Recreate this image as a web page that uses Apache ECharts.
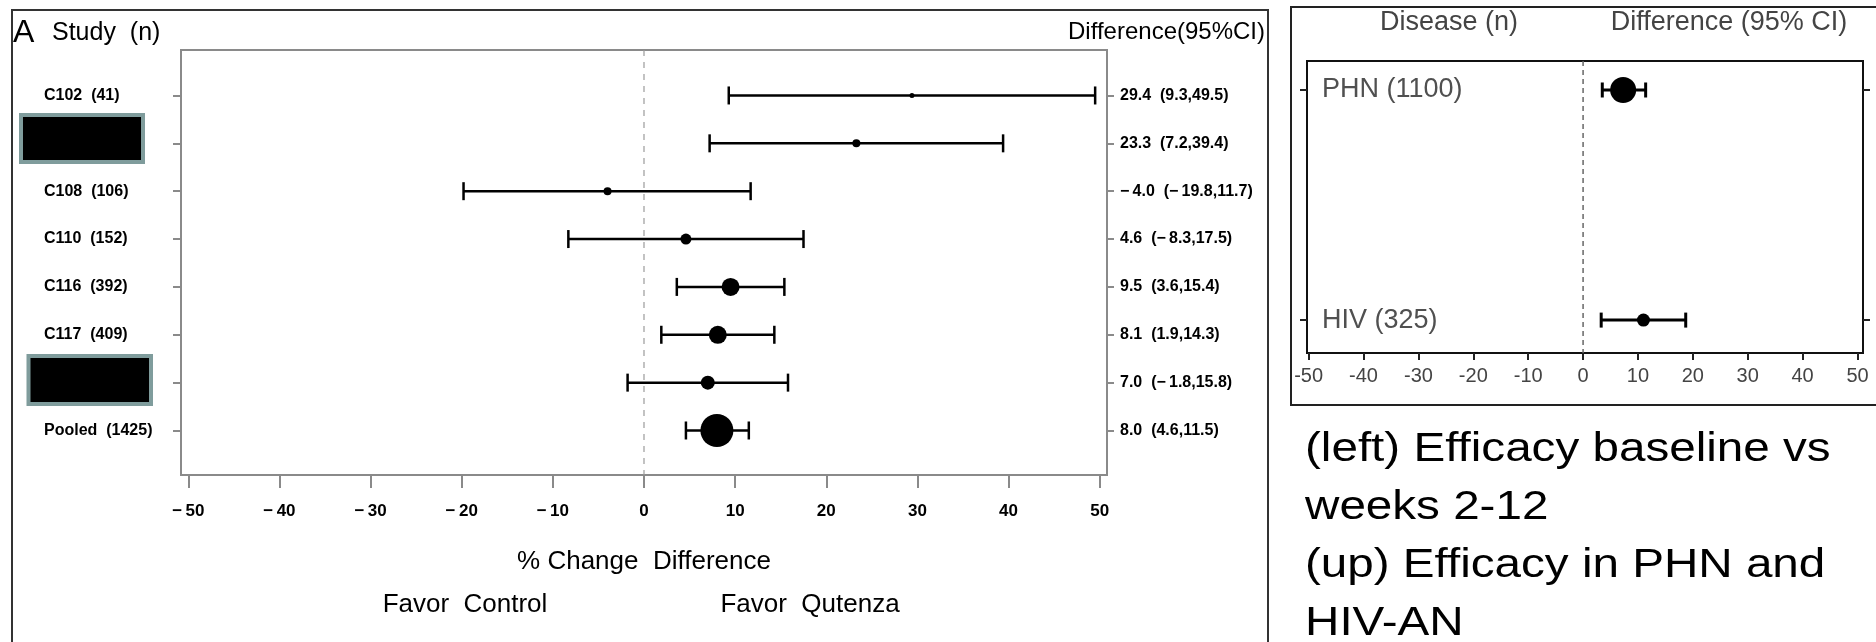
<!DOCTYPE html>
<html>
<head>
<meta charset="utf-8">
<script src="https://cdn.jsdelivr.net/npm/echarts@6/dist/echarts.min.js"></script>
<style>
  html, body { margin: 0; padding: 0; background: #fff; }
  #chart { width: 1876px; height: 642px; }
</style>
</head>
<body>
<div id="chart"></div>
<script>
// left panel: studies (two names are blacked out in the source)
const studies = ['C102  (41)', '', 'C108  (106)', 'C110  (152)', 'C116  (392)', 'C117  (409)', '', 'Pooled  (1425)'];
const diffEst = [29.4, 23.3, -4.0, 4.6, 9.5, 8.1, 7.0, 8.0];
const diffLow = [9.3, 7.2, -19.8, -8.3, 3.6, 1.9, -1.8, 4.6];
const diffHigh = [49.5, 39.4, 11.7, 17.5, 15.4, 14.3, 15.8, 11.5];
const studyMarker = [5, 8, 8, 11, 18, 18, 14, 33];

// right panel: disease
const diseases = ['PHN (1100)', 'HIV (325)'];
const diseaseEst = [7.3, 11.0];
const diseaseLow = [3.5, 3.3];
const diseaseHigh = [11.4, 18.7];
const diseaseMarker = [26, 13];

const xTicks = [-50, -40, -30, -20, -10, 0, 10, 20, 30, 40, 50];

const FONT = '"Liberation Sans", Arial, Helvetica, sans-serif';

function fmt(v) {
  return (v < 0 ? '\u2212\u2009' : '') + Math.abs(v).toFixed(1);
}

let chart = echarts.init(document.getElementById('chart'));

function errorBar(capH, lw) {
  return function (params, api) {
    const y = api.value(3);
    const lo = api.coord([api.value(1), y]);
    const hi = api.coord([api.value(2), y]);
    const mid = api.coord([api.value(0), y]);
    const r = api.value(4) / 2;
    const s = { stroke: '#000', lineWidth: lw };
    return {
      type: 'group',
      children: [
        { type: 'line', shape: { x1: lo[0], y1: lo[1], x2: hi[0], y2: hi[1] }, style: s },
        { type: 'line', shape: { x1: lo[0], y1: lo[1] - capH / 2, x2: lo[0], y2: lo[1] + capH / 2 }, style: s },
        { type: 'line', shape: { x1: hi[0], y1: hi[1] - capH / 2, x2: hi[0], y2: hi[1] + capH / 2 }, style: s },
        { type: 'circle', shape: { cx: mid[0], cy: mid[1], r: r }, style: { fill: '#000' } }
      ]
    };
  };
}

const studyData = diffEst.map((v, i) => [v, diffLow[i], diffHigh[i], i + 1, studyMarker[i]]);
const diseaseData = diseaseEst.map((v, i) => [v, diseaseLow[i], diseaseHigh[i], i + 1, diseaseMarker[i]]);
const rowsA = studies.map((s, i) => i + 1);
const rowsB = diseases.map((s, i) => i + 1);

const option = {
  animation: false,
  backgroundColor: '#fff',
  textStyle: { fontFamily: FONT },
  grid: [
    { left: 181, top: 50, width: 926, height: 425, show: true, borderColor: '#8a8a8a', borderWidth: 2 },
    { left: 1307, top: 61, width: 556, height: 292, show: true, borderColor: '#111', borderWidth: 2 }
  ],
  xAxis: [
    {
      gridIndex: 0, type: 'value', min: -50.8, max: 50.8,
      splitLine: { show: false },
      axisLine: { show: true, onZero: false, lineStyle: { color: '#8a8a8a', width: 2 } },
      axisTick: { show: true, length: 13, customValues: xTicks, lineStyle: { color: '#8a8a8a', width: 2 } },
      axisLabel: {
        customValues: xTicks, margin: 28, color: '#000', fontSize: 17, fontWeight: 'bold', fontFamily: FONT,
        formatter: v => (v < 0 ? '\u2212\u2009' + Math.abs(v) : String(v))
      },
      name: '% Change  Difference', nameLocation: 'middle', nameGap: 74,
      nameTextStyle: { color: '#000', fontSize: 26, fontFamily: FONT }
    },
    {
      gridIndex: 1, type: 'value', min: -50.3, max: 51.0,
      splitLine: { show: false },
      axisLine: { show: true, onZero: false, lineStyle: { color: '#111', width: 2 } },
      axisTick: { show: true, length: 7, customValues: xTicks, lineStyle: { color: '#222', width: 2 } },
      axisLabel: { customValues: xTicks, margin: 13, color: '#444', fontSize: 20, fontFamily: FONT }
    }
  ],
  yAxis: [
    {
      gridIndex: 0, type: 'value', inverse: true, min: 0.05, max: 8.93,
      splitLine: { show: false },
      axisLine: { show: false, onZero: false },
      axisTick: { show: true, length: 8, customValues: rowsA, lineStyle: { color: '#8a8a8a', width: 2 } },
      axisLabel: {
        customValues: rowsA, margin: 137, align: 'left', color: '#000',
        fontSize: 16, fontWeight: 'bold', fontFamily: FONT,
        formatter: v => studies[v - 1]
      }
    },
    {
      gridIndex: 0, type: 'value', inverse: true, min: 0.05, max: 8.93, position: 'right',
      splitLine: { show: false },
      axisLine: { show: false, onZero: false },
      axisTick: { show: true, length: 7, customValues: rowsA, lineStyle: { color: '#8a8a8a', width: 2 } },
      axisLabel: {
        customValues: rowsA, margin: 13, color: '#000',
        fontSize: 16, fontWeight: 'bold', fontFamily: FONT,
        formatter: v => fmt(diffEst[v - 1]) + '  (' + fmt(diffLow[v - 1]) + ',' + fmt(diffHigh[v - 1]) + ')'
      }
    },
    {
      gridIndex: 1, type: 'value', inverse: true, min: 0.874, max: 2.143,
      splitLine: { show: false },
      axisLine: { show: false, onZero: false },
      axisTick: { show: true, length: 7, customValues: rowsB, lineStyle: { color: '#222', width: 2 } },
      axisLabel: {
        customValues: rowsB, inside: true, margin: 15, color: '#505050',
        fontSize: 27, fontFamily: FONT,
        formatter: v => diseases[v - 1]
      }
    },
    {
      gridIndex: 1, type: 'value', inverse: true, min: 0.874, max: 2.143, position: 'right',
      splitLine: { show: false },
      axisLine: { show: false, onZero: false },
      axisTick: { show: true, length: 7, customValues: rowsB, lineStyle: { color: '#222', width: 2 } },
      axisLabel: { show: false }
    }
  ],
  series: [
    {
      type: 'line', xAxisIndex: 0, yAxisIndex: 0, symbol: 'none', silent: true,
      data: [[0, 0.05], [0, 8.93]],
      lineStyle: { color: '#9a9a9a', width: 1.2, type: [6, 6] }
    },
    {
      type: 'custom', xAxisIndex: 0, yAxisIndex: 0,
      renderItem: errorBar(18, 2.5),
      encode: { x: [0, 1, 2], y: 3 },
      data: studyData
    },
    {
      type: 'line', xAxisIndex: 1, yAxisIndex: 2, symbol: 'none', silent: true,
      data: [[0, 0.874], [0, 2.143]],
      lineStyle: { color: '#666', width: 1.5, type: [5, 4] }
    },
    {
      type: 'custom', xAxisIndex: 1, yAxisIndex: 2,
      renderItem: errorBar(15, 3),
      encode: { x: [0, 1, 2], y: 3 },
      data: diseaseData
    }
  ],
  graphic: [
    // outer frames of the two pasted figures
    { type: 'rect', shape: { x: 12, y: 10, width: 1256, height: 700 }, style: { fill: 'none', stroke: '#333', lineWidth: 2 }, silent: true },
    { type: 'rect', shape: { x: 1291, y: 7, width: 620, height: 398 }, style: { fill: 'none', stroke: '#222', lineWidth: 2 }, silent: true },
    // redaction boxes
    { type: 'rect', shape: { x: 21, y: 115, width: 122, height: 47 }, style: { fill: '#000', stroke: '#7f9c9c', lineWidth: 4 } },
    { type: 'rect', shape: { x: 28.5, y: 356, width: 122.5, height: 48 }, style: { fill: '#000', stroke: '#7f9c9c', lineWidth: 4 } },
    // left headers
    { type: 'text', x: 13, y: 33, style: { text: 'A', font: '32px ' + FONT, fill: '#000', textVerticalAlign: 'middle' } },
    { type: 'text', x: 52, y: 33, style: { text: 'Study  (n)', font: '25px ' + FONT, fill: '#000', textVerticalAlign: 'middle' } },
    { type: 'text', x: 1265, y: 32, style: { text: 'Difference(95%CI)', font: '24px ' + FONT, fill: '#000', textAlign: 'right', textVerticalAlign: 'middle' } },
    { type: 'text', x: 465, y: 605, style: { text: 'Favor  Control', font: '26px ' + FONT, fill: '#000', textAlign: 'center', textVerticalAlign: 'middle' } },
    { type: 'text', x: 810, y: 605, style: { text: 'Favor  Qutenza', font: '26px ' + FONT, fill: '#000', textAlign: 'center', textVerticalAlign: 'middle' } },
    // right headers
    { type: 'text', x: 1449, y: 23, style: { text: 'Disease (n)', font: '27px ' + FONT, fill: '#444', textAlign: 'center', textVerticalAlign: 'middle' } },
    { type: 'text', x: 1729, y: 23, style: { text: 'Difference (95% CI)', font: '27px ' + FONT, fill: '#444', textAlign: 'center', textVerticalAlign: 'middle' } },
    // caption
    {
      type: 'text', x: 1305, y: 421, scaleX: 1.19,
      style: {
        text: '(left) Efficacy baseline vs\nweeks 2-12\n(up) Efficacy in PHN and\nHIV-AN',
        font: '40px ' + FONT, lineHeight: 58, fill: '#000', textVerticalAlign: 'top'
      }
    }
  ]
};

chart.setOption(option);
</script>
</body>
</html>
